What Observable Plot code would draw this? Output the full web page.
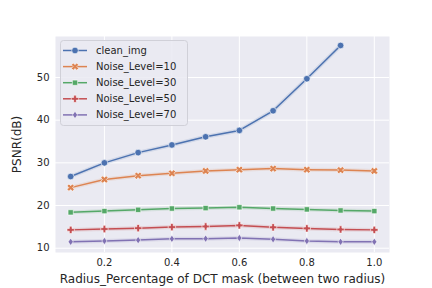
<!DOCTYPE html>
<html>
<head>
<meta charset="utf-8">
<script src="https://cdn.jsdelivr.net/npm/d3@7"></script>
<script src="https://cdn.jsdelivr.net/npm/@observablehq/plot@0.6"></script>
<style>
  html, body { margin: 0; padding: 0; background: #fff; }
  #wrap { position: relative; width: 432px; height: 288px; }
  #wrap svg { position: absolute; left: 0; top: 0; }
</style>
</head>
<body>
<div id="wrap"></div>
<script>
const radius = [0.1, 0.2, 0.3, 0.4, 0.5, 0.6, 0.7, 0.8, 0.9, 1.0];
const cleanImg = [26.8, 30.0, 32.4, 34.2, 36.1, 37.6, 42.2, 49.7, 57.5];
const noise10 = [24.2, 26.1, 27.0, 27.55, 28.1, 28.4, 28.65, 28.4, 28.3, 28.1];
const noise30 = [18.4, 18.7, 19.0, 19.3, 19.4, 19.6, 19.3, 19.1, 18.85, 18.7];
const noise50 = [14.3, 14.5, 14.7, 14.95, 15.1, 15.35, 14.9, 14.65, 14.4, 14.3];
const noise70 = [11.5, 11.7, 11.9, 12.2, 12.25, 12.4, 12.1, 11.7, 11.5, 11.5];
const seriesNames = ["clean_img", "Noise_Level=10", "Noise_Level=30", "Noise_Level=50", "Noise_Level=70"];
const seriesValues = [cleanImg, noise10, noise30, noise50, noise70];
const colors = ["#4C72B0", "#DD8452", "#55A868", "#C44E52", "#8172B3"];
const xTicks = [0.2, 0.4, 0.6, 0.8, 1.0];
const yTicks = [10, 20, 30, 40, 50];
const xLabel = "Radius_Percentage of DCT mask (between two radius)";
const yLabel = "PSNR(dB)";

// filled marker shapes (seaborn-like)
function scaleOf(size) { return Math.sqrt(size / Math.PI); }
const symCircle = { draw(c, size) { const r = scaleOf(size); c.moveTo(r, 0); c.arc(0, 0, r, 0, 2 * Math.PI); c.closePath(); } };
function polyDraw(pts) {
  return { draw(c, size) { const r = scaleOf(size); pts.forEach(([x, y], i) => i ? c.lineTo(x * r, y * r) : c.moveTo(x * r, y * r)); c.closePath(); } };
}
const t = 0.36;
const plusPts = [[-t,-1],[t,-1],[t,-t],[1,-t],[1,t],[t,t],[t,1],[-t,1],[-t,t],[-1,t],[-1,-t],[-t,-t]];
const rot = (pts, a) => pts.map(([x, y]) => [x * Math.cos(a) - y * Math.sin(a), x * Math.sin(a) + y * Math.cos(a)]);
const symX = polyDraw(rot(plusPts.map(([x,y]) => [x*1.15, y*1.15]), Math.PI / 4));
const symSquare = polyDraw([[-0.85,-0.85],[0.85,-0.85],[0.85,0.85],[-0.85,0.85]]);
const symPlus = polyDraw(plusPts.map(([x,y]) => [x*1.05, y*1.05]));
const symDiamond = polyDraw([[0,-1.15],[0.8,0],[0,1.15],[-0.8,0]]);
const symbols = [symCircle, symX, symSquare, symPlus, symDiamond];
const radii = [3.3, 3.3, 3.1, 3.5, 3.2];

const data = [];
seriesValues.forEach((vals, si) => vals.forEach((v, i) => data.push({ s: seriesNames[si], x: radius[i], y: v })));

const marks = [
  Plot.frame({ fill: "#EAEAF2", stroke: null }),
  Plot.gridX(xTicks, { stroke: "#fff", strokeOpacity: 1, strokeWidth: 1 }),
  Plot.gridY(yTicks, { stroke: "#fff", strokeOpacity: 1, strokeWidth: 1 }),
  Plot.axisX(xTicks, { tickSize: 0, tickPadding: 6, fontSize: 10, color: "#262626", label: xLabel, labelAnchor: "center", labelOffset: 30, labelArrow: "none", tickFormat: d3.format(".1f") }),
  Plot.axisY(yTicks, { tickSize: 0, tickPadding: 6, fontSize: 10, color: "#262626", label: yLabel, labelAnchor: "center", labelOffset: 43, labelArrow: "none" })
];
seriesNames.forEach((name, si) => {
  const d = data.filter(r => r.s === name);
  marks.push(Plot.line(d, { x: "x", y: "y", stroke: colors[si], strokeWidth: 4, strokeOpacity: 0.15 }));
  marks.push(Plot.line(d, { x: "x", y: "y", stroke: colors[si], strokeWidth: 1.5 }));
  marks.push(Plot.dot(d, { x: "x", y: "y", fill: colors[si], stroke: "#fff", strokeWidth: 0.6, r: radii[si], symbol: symbols[si] }));
});

const chart = Plot.plot({
  width: 432, height: 288,
  marginLeft: 55, marginRight: 43, marginTop: 36, marginBottom: 36,
  style: { fontFamily: "DejaVu Sans", fontSize: "10px", color: "#262626", background: "#fff" },
  x: { domain: [0.055, 1.045], label: xLabel },
  y: { domain: [9.0, 59.6], label: yLabel },
  marks
});
// axis titles slightly larger than tick labels
d3.select(chart).selectAll('g[aria-label="x-axis label"], g[aria-label="y-axis label"]')
  .attr("font-size", "12px").selectAll("text").attr("font-size", "12px");
document.getElementById("wrap").appendChild(chart);

// legend overlay
const leg = d3.select("#wrap").append("svg").attr("width", 432).attr("height", 288)
  .style("font-family", "DejaVu Sans").style("font-size", "10px");
leg.append("rect").attr("x", 60.5).attr("y", 40.5).attr("width", 127).attr("height", 85).attr("rx", 3)
  .attr("fill", "#EAEAF2").attr("fill-opacity", 0.85).attr("stroke", "#d0d0d8").attr("stroke-width", 1);
seriesNames.forEach((name, si) => {
  const cy = 50.5 + si * 16.1;
  const g = leg.append("g");
  g.append("line").attr("x1", 63).attr("x2", 87).attr("y1", cy).attr("y2", cy).attr("stroke", colors[si]).attr("stroke-width", 1.5);
  g.append("path").attr("transform", `translate(75,${cy})`)
    .attr("d", d3.symbol(symbols[si], Math.PI * radii[si] * radii[si])())
    .attr("fill", colors[si]).attr("stroke", "#fff").attr("stroke-width", 0.6);
  g.append("text").attr("x", 96).attr("y", cy).attr("dy", "0.35em").attr("fill", "#262626").text(name);
});
</script>
</body>
</html>
